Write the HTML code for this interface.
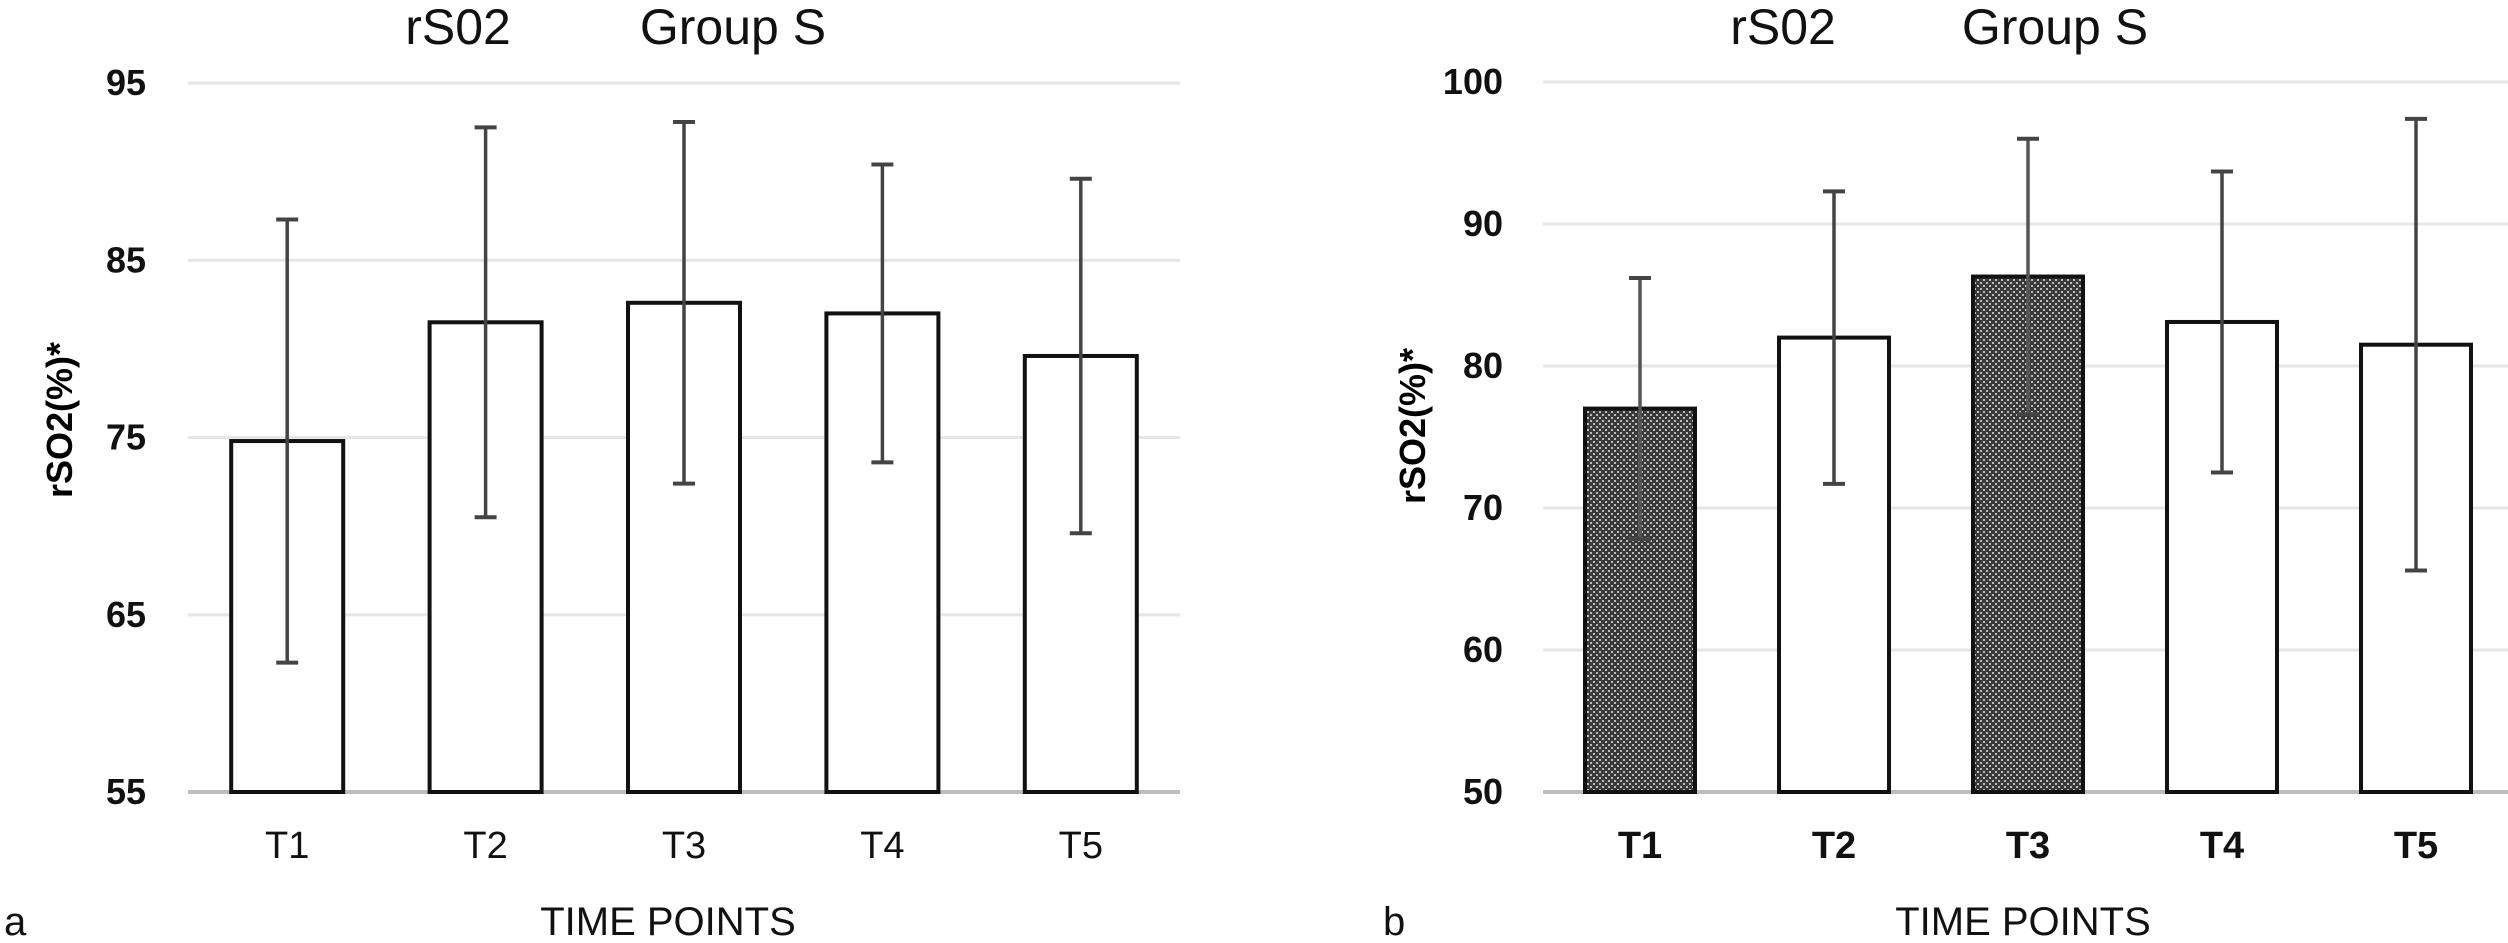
<!DOCTYPE html>
<html><head><meta charset="utf-8"><style>
html,body{margin:0;padding:0;background:#fff}
svg{display:block}
.title{font-family:"Liberation Sans Narrow","Liberation Sans",sans-serif;font-size:50px;fill:#111}
.tick{font-family:"Liberation Sans Narrow","Liberation Sans",sans-serif;font-size:36px;font-weight:bold;fill:#111}
.xlab{font-family:"Liberation Sans Narrow","Liberation Sans",sans-serif;font-size:38px;fill:#111}
.xlabb{font-family:"Liberation Sans Narrow","Liberation Sans",sans-serif;font-size:38px;font-weight:bold;fill:#111}
.ytitle{font-family:"Liberation Sans",sans-serif;font-size:36px;font-weight:bold;fill:#000}
.axt{font-family:"Liberation Sans Narrow","Liberation Sans",sans-serif;font-size:40px;fill:#111}
</style></head><body>
<svg id="chart" width="2508" height="943" viewBox="0 0 2508 943" xmlns="http://www.w3.org/2000/svg">
<defs>
<pattern id="dots" width="6" height="6" patternUnits="userSpaceOnUse">
<rect width="6" height="6" fill="#3a3a3a"/>
<rect x="0" y="0" width="2" height="2" fill="#bbb"/>
<rect x="3" y="3" width="2" height="2" fill="#bbb"/>
</pattern>
</defs>
<g id="panelA"></g>
<g id="panelB"></g>
</svg>
<script>
const categories = ["T1","T2","T3","T4","T5"];
const meansA = [74.8, 81.5, 82.6, 82.0, 79.6];
const sdA = [12.5, 11.0, 10.2, 8.4, 10.0];
const ticksA = [55, 65, 75, 85, 95];
const meansB = [77.0, 82.0, 86.3, 83.1, 81.5];
const sdB = [9.2, 10.3, 9.7, 10.6, 15.9];
const ticksB = [50, 60, 70, 80, 90, 100];
const shadedB = [true, false, true, false, false];

const NS = "http://www.w3.org/2000/svg";
function mk(parent, tag, attrs, text){
  const e = document.createElementNS(NS, tag);
  for (const k in attrs) e.setAttribute(k, attrs[k]);
  if (text !== undefined) e.textContent = text;
  parent.appendChild(e);
  return e;
}

function drawPanel(g, cfg){
  const yScale = v => cfg.y0 - (v - cfg.vmin) / (cfg.vmax - cfg.vmin) * (cfg.y0 - cfg.y1);
  const xCenter = i => cfg.xl + cfg.step * (i + 0.5);
  // gridlines & ticks
  cfg.ticks.forEach((t) => {
    const y = yScale(t);
    const gl = mk(g, "line", {x1: cfg.xl, x2: cfg.xr, y1: y, y2: y, stroke: t === cfg.vmin ? "#bdbdbd" : "#e6e6e6", "stroke-width": t === cfg.vmin ? 4 : 3});
    
    
    const tl = mk(g, "text", {x: cfg.tickX, y: y + 12, "text-anchor": "end", class: "tick"}, String(t));
    
    
  });
  // bars
  categories.forEach((c, i) => {
    const cx = xCenter(i);
    const top = yScale(cfg.means[i]);
    const shaded = cfg.shaded ? cfg.shaded[i] : false;
    const bar = mk(g, "rect", {x: cx - cfg.bw / 2, y: top, width: cfg.bw, height: cfg.y0 - top, fill: shaded ? "url(#dots)" : "#fff", stroke: "#111", "stroke-width": 4});
    
    
    const hi = yScale(cfg.means[i] + cfg.sd[i]);
    const lo = yScale(cfg.means[i] - cfg.sd[i]);
    const eb = mk(g, "g", {});
    
    
    mk(eb, "line", {x1: cx, x2: cx, y1: hi, y2: lo, stroke: shaded ? "#555" : "#444", "stroke-width": 3.5, "stroke-dasharray": shaded ? "" : ""});
    mk(eb, "line", {x1: cx - 11, x2: cx + 11, y1: hi, y2: hi, stroke: "#444", "stroke-width": 4});
    mk(eb, "line", {x1: cx - 11, x2: cx + 11, y1: lo, y2: lo, stroke: "#444", "stroke-width": 4});
    const xl = mk(g, "text", {x: cx, y: cfg.xLabY, "text-anchor": "middle", class: cfg.boldX ? "xlabb" : "xlab"}, c);
    
    
  });
}

const gA = document.getElementById("panelA");
const gB = document.getElementById("panelB");
drawPanel(gA, {vmin:55, vmax:95, y0:792, y1:83, xl:188, xr:1180, step:198.4, bw:112, ticks:ticksA, tickX:146, means:meansA, sd:sdA, xLabY:858, boldX:false});
drawPanel(gB, {vmin:50, vmax:100, y0:792, y1:82, xl:1543, xr:2508, step:194, bw:110, ticks:ticksB, tickX:1503, means:meansB, sd:sdB, shaded:shadedB, xLabY:858, boldX:true});

function label(g, attrs, cls, txt, name){
  const t = mk(g, "text", Object.assign({class: cls}, attrs), txt);
  
  
  return t;
}
label(gA, {x:458, y:44, "text-anchor":"middle"}, "title", "rS02", "title-rso2");
label(gA, {x:733, y:44, "text-anchor":"middle"}, "title", "Group S", "title-group");
label(gA, {x:0, y:0, "text-anchor":"middle", transform:"translate(72,420) rotate(-90)"}, "ytitle", "rSO2(%)*", "y-axis-title");
label(gA, {x:668, y:935, "text-anchor":"middle"}, "axt", "TIME POINTS", "x-axis-title");
label(gA, {x:4, y:935}, "axt", "a", "panel-label-a");

label(gB, {x:1783, y:44, "text-anchor":"middle"}, "title", "rS02", "title-rso2");
label(gB, {x:2055, y:44, "text-anchor":"middle"}, "title", "Group S", "title-group");
label(gB, {x:0, y:0, "text-anchor":"middle", transform:"translate(1425,426) rotate(-90)"}, "ytitle", "rSO2(%)*", "y-axis-title");
label(gB, {x:2023, y:935, "text-anchor":"middle"}, "axt", "TIME POINTS", "x-axis-title");
label(gB, {x:1383, y:935}, "axt", "b", "panel-label-b");
</script>
</body></html>
